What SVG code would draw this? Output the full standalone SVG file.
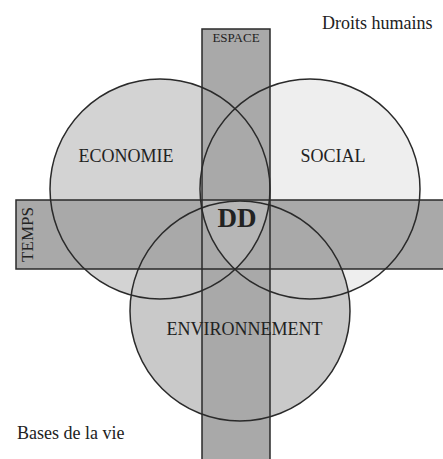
<svg xmlns="http://www.w3.org/2000/svg" width="443" height="459" viewBox="0 0 443 459">
<style>
.lbl{font-family:"Liberation Serif","Times New Roman",serif;fill:#222;font-size:18px}
.ln{fill:none;stroke:#2a2a2a;stroke-width:1.5}
.band{fill:#a9a9a9}
</style>
<rect x="0" y="0" width="443" height="459" fill="#ffffff"/>
<g id="economie"><circle cx="160" cy="189" r="110" fill="#d3d3d3"/></g>
<g id="social"><circle cx="310" cy="189" r="110" fill="#eeeeee"/></g>
<g id="environnement"><circle cx="240" cy="311" r="110" fill="#c9c9c9"/></g>
<g id="espace"><rect class="band" x="202" y="29" width="68" height="432"/></g>
<g id="temps"><rect class="band" x="16" y="200" width="430" height="69"/></g>
<g id="dd"><path d="M200.55,200 L269.45,200 A110,110 0 0 1 235,269.5 A110,110 0 0 1 200.55,200 Z" fill="#b6b6b6"/></g>
<g id="connectors">
<circle class="ln" cx="160" cy="189" r="110"/>
<circle class="ln" cx="310" cy="189" r="110"/>
<circle class="ln" cx="240" cy="311" r="110"/>
<rect class="ln" x="202" y="29" width="68" height="432"/>
<rect class="ln" x="16" y="200" width="430" height="69"/>
</g>
<g id="labels">
<text class="lbl" x="322" y="29">Droits humains</text>
<text class="lbl" x="236" y="41.5" font-size="13" text-anchor="middle" style="font-size:13px">ESPACE</text>
<text class="lbl" x="126" y="162" text-anchor="middle">ECONOMIE</text>
<text class="lbl" x="333" y="162" text-anchor="middle">SOCIAL</text>
<text class="lbl" x="237" y="227" text-anchor="middle" style="font-size:27px;font-weight:bold">DD</text>
<text class="lbl" transform="translate(33,234.5) rotate(-90)" text-anchor="middle" style="font-size:17px">TEMPS</text>
<text class="lbl" x="244.5" y="335" text-anchor="middle">ENVIRONNEMENT</text>
<text class="lbl" x="17" y="439">Bases de la vie</text>
</g>
</svg>
